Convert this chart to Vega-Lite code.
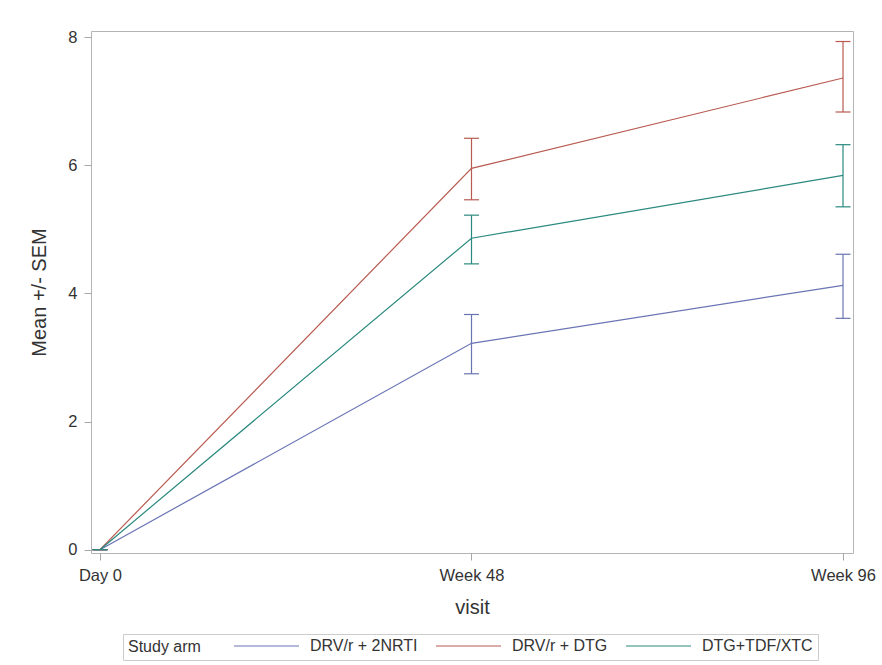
{
  "$schema": "https://vega.github.io/schema/vega-lite/v6.json",
  "width": 762,
  "height": 522,
  "autosize": "none",
  "padding": {"left": 91, "top": 31, "right": 29, "bottom": 112},
  "background": "white",
  "config": {
    "font": "Liberation Sans",
    "view": {"stroke": "#b4b4b4", "strokeWidth": 1},
    "axis": {
      "grid": false,
      "domain": false,
      "tickColor": "#a8a8a8",
      "tickSize": 7,
      "labelFont": "Liberation Sans",
      "labelFontSize": 16.5,
      "labelColor": "#333333",
      "titleFont": "Liberation Sans",
      "titleFontSize": 20,
      "titleFontWeight": "normal",
      "titleColor": "#333333"
    }
  },
  "data": {
    "values": [
      {"visit": 0, "arm": "DRV/r + 2NRTI", "mean": 0, "lo": 0, "hi": 0},
      {"visit": 48, "arm": "DRV/r + 2NRTI", "mean": 3.22, "lo": 2.745, "hi": 3.67},
      {"visit": 96, "arm": "DRV/r + 2NRTI", "mean": 4.125, "lo": 3.61, "hi": 4.61},
      {"visit": 0, "arm": "DRV/r + DTG", "mean": 0, "lo": 0, "hi": 0},
      {"visit": 48, "arm": "DRV/r + DTG", "mean": 5.95, "lo": 5.46, "hi": 6.42},
      {"visit": 96, "arm": "DRV/r + DTG", "mean": 7.36, "lo": 6.83, "hi": 7.93},
      {"visit": 0, "arm": "DTG+TDF/XTC", "mean": 0, "lo": 0, "hi": 0},
      {"visit": 48, "arm": "DTG+TDF/XTC", "mean": 4.86, "lo": 4.46, "hi": 5.22},
      {"visit": 96, "arm": "DTG+TDF/XTC", "mean": 5.84, "lo": 5.35, "hi": 6.32}
    ]
  },
  "encoding": {
    "x": {
      "field": "visit",
      "type": "quantitative",
      "scale": {"domain": [-1.16, 97.29], "nice": false, "zero": false},
      "axis": {
        "values": [0, 48, 96],
        "labelExpr": "datum.value == 0 ? 'Day 0' : 'Week ' + datum.value",
        "title": "visit",
        "labelPadding": 7,
        "titlePadding": 14,
        "labelFlush": false
      }
    },
    "color": {
      "field": "arm",
      "type": "nominal",
      "scale": {
        "domain": ["DRV/r + 2NRTI", "DRV/r + DTG", "DTG+TDF/XTC"],
        "range": ["#6a74b3", "#b85a50", "#2a897e"]
      },
      "legend": {
        "title": "Study arm",
        "orient": "none",
        "legendX": 32,
        "legendY": 603,
        "direction": "horizontal",
        "titleOrient": "left",
        "titleFont": "Liberation Sans",
        "titleFontSize": 16,
        "titleFontWeight": "normal",
        "titleColor": "#333333",
        "titlePadding": 32,
        "labelFont": "Liberation Sans",
        "labelFontSize": 16,
        "labelColor": "#333333",
        "labelOffset": 10,
        "columnPadding": 17,
        "symbolType": "stroke",
        "symbolSize": 4225,
        "symbolStrokeWidth": 1.2,
        "clipHeight": 14,
        "strokeColor": "#cccccc",
        "padding": 5
      }
    }
  },
  "layer": [
    {
      "mark": {"type": "line", "strokeWidth": 1.2},
      "encoding": {
        "y": {
          "field": "mean",
          "type": "quantitative",
          "scale": {"domain": [-0.052, 8.094], "nice": false, "zero": false},
          "axis": {
            "values": [0, 2, 4, 6, 8],
            "format": "d",
            "title": "Mean +/- SEM",
            "labelPadding": 7,
            "titlePadding": 18
          }
        }
      }
    },
    {
      "mark": {"type": "rule", "strokeWidth": 1.2},
      "encoding": {
        "y": {"field": "lo", "type": "quantitative"},
        "y2": {"field": "hi"}
      }
    },
    {
      "mark": {"type": "tick", "orient": "horizontal", "size": 15, "thickness": 1.2, "opacity": 1},
      "encoding": {
        "y": {"field": "lo", "type": "quantitative"}
      }
    },
    {
      "mark": {"type": "tick", "orient": "horizontal", "size": 15, "thickness": 1.2, "opacity": 1},
      "encoding": {
        "y": {"field": "hi", "type": "quantitative"}
      }
    }
  ]
}
